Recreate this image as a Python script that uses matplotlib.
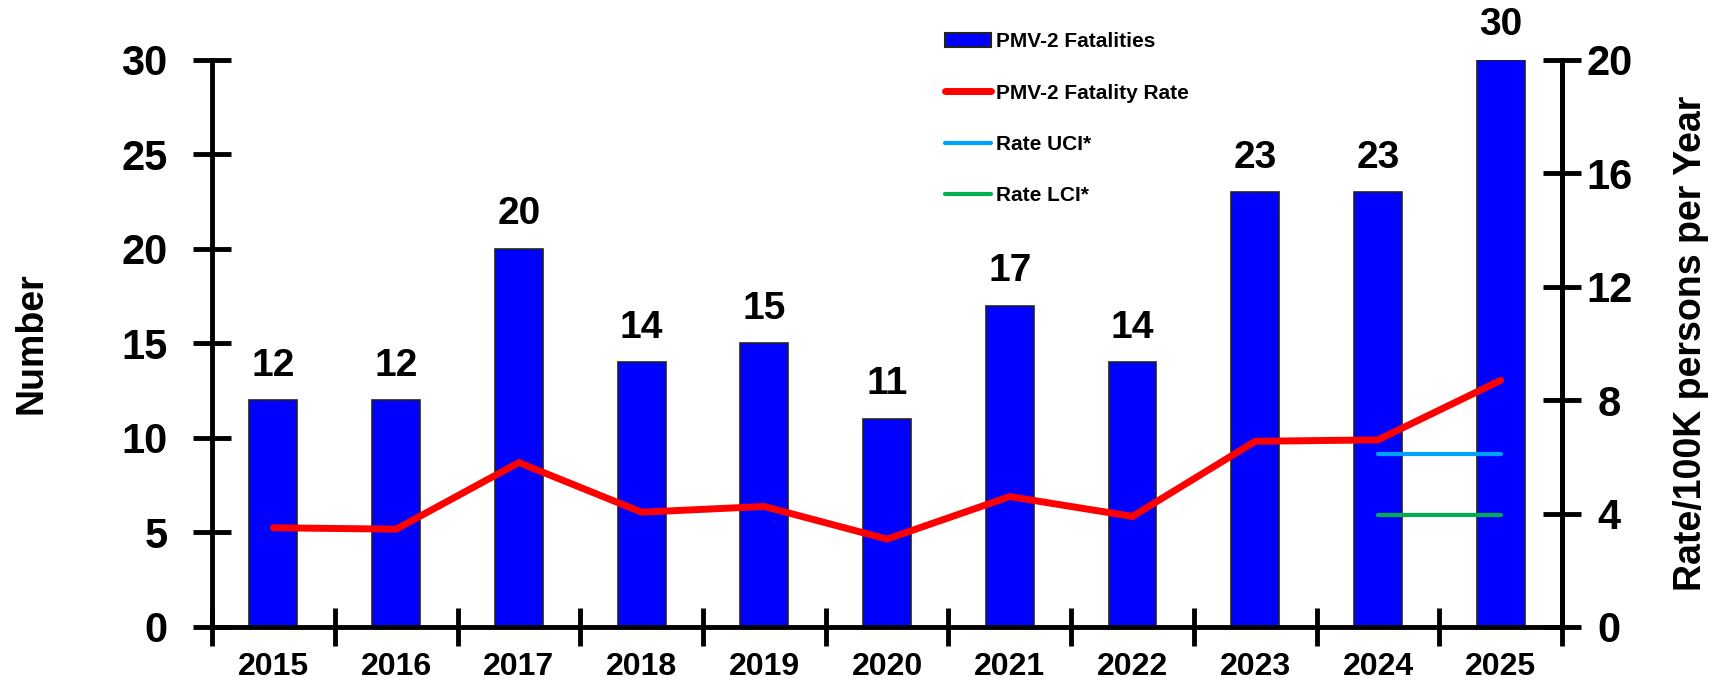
import numpy as np
import matplotlib.pyplot as plt
from matplotlib.patches import Patch
from matplotlib.lines import Line2D

# datos
anios = ['2015', '2016', '2017', '2018', '2019', '2020', '2021', '2022', '2023', '2024', '2025']
muertes = [12, 12, 20, 14, 15, 11, 17, 14, 23, 23, 30]
tasa = [3.5, 3.45, 5.8, 4.05, 4.25, 3.1, 4.6, 3.9, 6.55, 6.6, 8.7]
ic_anios = [9, 10]          # indices de 2024 y 2025
tasa_uci = [6.1, 6.1]
tasa_lci = [3.95, 3.95]

plt.rcParams['font.family'] = ['Liberation Sans', 'DejaVu Sans']
plt.rcParams['font.weight'] = 'bold'

fig = plt.figure(figsize=(17.31, 6.83), dpi=100)
ax = fig.add_axes([0.1225, 0.082, 0.7799, 0.8302])
ax2 = ax.twinx()

x = np.arange(len(anios))
barras = ax.bar(x, muertes, width=0.39, color='#0000FF', edgecolor='#222222', linewidth=1.2, zorder=2)
ax.bar_label(barras, padding=12, fontsize=28, fontweight='bold')

ax2.plot(x, tasa, color='#FF0000', lw=5, solid_capstyle='round', solid_joinstyle='miter', zorder=3)
ax2.plot(ic_anios, tasa_uci, color='#00A0FF', lw=3, solid_capstyle='round')
ax2.plot(ic_anios, tasa_lci, color='#00B050', lw=3, solid_capstyle='round')

ax.set_xlim(-0.5, 10.5)
ax.set_ylim(0, 30)
ax2.set_ylim(0, 20)
ax.set_yticks([0, 5, 10, 15, 20, 25, 30])
ax2.set_yticks([0, 4, 8, 12, 16, 20])

# marcas entre categorias, etiquetas en el centro
ax.set_xticks(np.arange(-0.5, 11, 1))
ax.set_xticklabels([])
ax.set_xticks(x, minor=True)
ax.set_xticklabels(anios, minor=True)
ax.tick_params(axis='x', which='major', direction='inout', length=28, width=3.5)
ax.tick_params(axis='x', which='minor', length=0, pad=18, labelsize=23)
ax.tick_params(axis='y', direction='inout', length=28, width=3.5, pad=18, labelsize=30)
ax2.tick_params(axis='y', direction='inout', length=28, width=3.5, pad=20, labelsize=30)
for t in ax2.get_yticklabels():
    t.set_horizontalalignment('center')

for a in (ax, ax2):
    a.spines['top'].set_visible(False)
    for s in ('left', 'right', 'bottom'):
        a.spines[s].set_linewidth(3.5)
ax2.spines['left'].set_visible(False)
ax2.spines['bottom'].set_visible(False)

ax.set_ylabel('Number', fontsize=27, fontweight='bold', labelpad=52)
ax2.set_ylabel('Rate/100K persons per Year', fontsize=27, fontweight='bold', labelpad=29)

manejadores = [
    Patch(facecolor='#0000FF', edgecolor='#222222', linewidth=1.5),
    Line2D([], [], color='#FF0000', lw=5, solid_capstyle='round'),
    Line2D([], [], color='#00A0FF', lw=3, solid_capstyle='round'),
    Line2D([], [], color='#00B050', lw=3, solid_capstyle='round'),
]
textos = ['PMV-2 Fatalities', 'PMV-2 Fatality Rate', 'Rate UCI*', 'Rate LCI*']
fig.legend(manejadores, textos, loc='upper left', bbox_to_anchor=(0.540, 0.968),
           frameon=False, prop={'size': 15, 'weight': 'bold'},
           handlelength=2.2, handleheight=0.7, handletextpad=0.25,
           labelspacing=1.55, borderpad=0)

fig.savefig('out.png', dpi=100)
